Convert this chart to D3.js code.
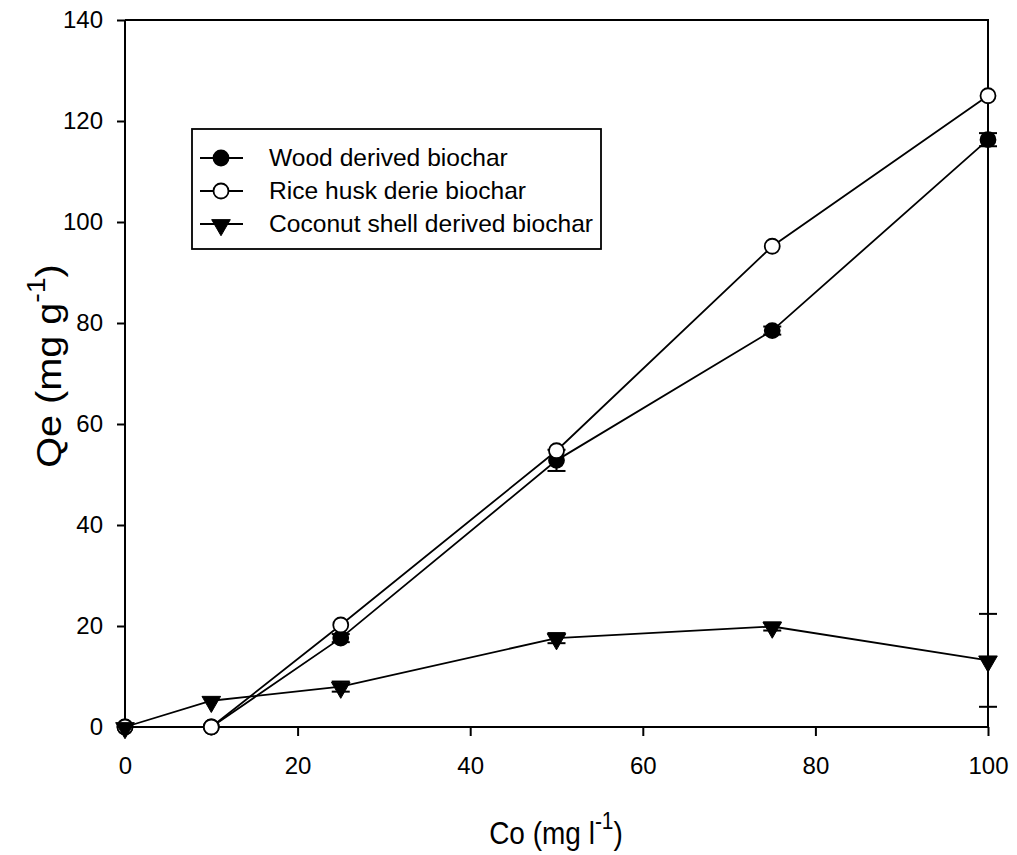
<!DOCTYPE html>
<html>
<head>
<meta charset="utf-8">
<script src="https://cdn.jsdelivr.net/npm/d3@7"></script>
<style>
  html, body { margin: 0; padding: 0; background: #fff; }
  svg { display: block; font-family: Arial, "Liberation Sans", sans-serif; }
</style>
</head>
<body>
<svg id="chart" width="1017" height="855"></svg>
<script>
// Initial concentration Co (mg/l)
const concentrations = [0, 10, 25, 50, 75, 100];

// Adsorbed amount Qe (mg/g) per biochar
const woodQe     = [0, 0, 17.6, 52.8, 78.5, 116.3];
const riceHuskQe = [0, 0, 20.2, 54.7, 95.2, 125.0];
const coconutQe  = [0, 5.2, 8.0, 17.6, 19.9, 13.2];

// Standard errors
const woodErr     = [0, 0, 0.8, 2.1, 0.8, 1.3];
const riceHuskErr = [0, 0, 0, 0, 0, 0];
const coconutErr  = [0, 0, 1.0, 1.0, 0.8, 9.2];

const seriesNames = ["Wood derived biochar", "Rice husk derie biochar", "Coconut shell derived biochar"];
const xTicks = [0, 20, 40, 60, 80, 100];
const yTicks = [0, 20, 40, 60, 80, 100, 120, 140];

const svg = d3.select("#chart");
const plotLeft = 125, plotRight = 988, plotTop = 20, plotBottom = 727;

const x = d3.scaleLinear().domain([0, 100]).range([plotLeft, plotRight]);
const y = d3.scaleLinear().domain([0, 140]).range([plotBottom, plotTop]);

const series = [
  { name: seriesNames[0], values: woodQe, err: woodErr, symbol: "filled" },
  { name: seriesNames[1], values: riceHuskQe, err: riceHuskErr, symbol: "open" },
  { name: seriesNames[2], values: coconutQe, err: coconutErr, symbol: "triangle" }
];

// Frame: top and right edges
svg.append("path")
  .attr("d", `M${plotLeft},${plotTop}H${plotRight}V${plotBottom}`)
  .attr("fill", "none").attr("stroke", "#000").attr("stroke-width", 2);

// Axes
const xAxis = svg.append("g").attr("transform", `translate(0,${plotBottom})`)
  .call(d3.axisBottom(x).tickValues(xTicks).tickSize(9).tickPadding(21).tickFormat(d3.format("d")));
const yAxis = svg.append("g").attr("transform", `translate(${plotLeft},0)`)
  .call(d3.axisLeft(y).tickValues(yTicks).tickSize(8).tickPadding(14).tickFormat(d3.format("d")));
[xAxis, yAxis].forEach(a => {
  a.attr("font-size", null).attr("font-family", null);
  a.selectAll("path.domain").attr("stroke", "#000").attr("stroke-width", 2);
  a.selectAll(".tick line").attr("stroke", "#000").attr("stroke-width", 2);
  a.selectAll(".tick text").attr("fill", "#000").style("font-size", "24px")
    .style("font-family", "Arial, 'Liberation Sans', sans-serif");
});
xAxis.select("path.domain").attr("d", `M${plotLeft},0H${plotRight}`);
yAxis.select("path.domain").attr("d", `M0,${plotTop}V${plotBottom}`);

// Marker drawing
const triangle = d3.symbol().type(d3.symbolTriangle).size(150);
function drawMarker(g, kind, cx, cy) {
  if (kind === "triangle") {
    g.append("path").attr("d", triangle())
      .attr("transform", `translate(${cx},${cy + 1}) rotate(180)`)
      .attr("fill", "#000").attr("stroke", "#000").attr("stroke-width", 1);
  } else {
    g.append("circle").attr("cx", cx).attr("cy", cy).attr("r", 7.5)
      .attr("fill", kind === "filled" ? "#000" : "#fff")
      .attr("stroke", "#000").attr("stroke-width", 1.8);
  }
}

const line = d3.line().x(d => x(d[0])).y(d => y(d[1]));

series.forEach(s => {
  const g = svg.append("g");
  const pts = concentrations.map((c, i) => [c, s.values[i], s.err[i]]);
  // error bars
  pts.filter(p => p[2] > 0).forEach(p => {
    const cx = x(p[0]);
    g.append("line").attr("x1", cx).attr("x2", cx)
      .attr("y1", y(p[1] - p[2])).attr("y2", y(p[1] + p[2]))
      .attr("stroke", "#000").attr("stroke-width", 2);
    [p[1] - p[2], p[1] + p[2]].forEach(v => {
      g.append("line").attr("x1", cx - 9).attr("x2", cx + 9)
        .attr("y1", y(v)).attr("y2", y(v))
        .attr("stroke", "#000").attr("stroke-width", 2);
    });
  });
  g.append("path").datum(pts).attr("d", line)
    .attr("fill", "none").attr("stroke", "#000").attr("stroke-width", 1.8);
  pts.forEach(p => drawMarker(g, s.symbol, x(p[0]), y(p[1])));
});

// Legend
const lg = svg.append("g");
lg.append("rect").attr("x", 192).attr("y", 129).attr("width", 409).attr("height", 120)
  .attr("fill", "#fff").attr("stroke", "#000").attr("stroke-width", 1.8);
series.forEach((s, i) => {
  const ly = 158 + i * 33;
  lg.append("line").attr("x1", 200).attr("x2", 243).attr("y1", ly).attr("y2", ly)
    .attr("stroke", "#000").attr("stroke-width", 1.8);
  drawMarker(lg, s.symbol, 221, ly);
  lg.append("text").attr("x", 269).attr("y", ly + 8).text(s.name)
    .style("font-size", "24.6px").attr("fill", "#000");
});

// Axis titles
const xt = svg.append("text").attr("transform", "translate(556,844) scale(1,1.12)")
  .attr("text-anchor", "middle").style("font-size", "28px").attr("fill", "#000");
xt.append("tspan").text("Co (mg l");
xt.append("tspan").attr("dy", -13).style("font-size", "21px").text("-1");
xt.append("tspan").attr("dy", 13).text(")");

const yt = svg.append("text").attr("transform", "translate(61,366) rotate(-90) scale(1.1,1)")
  .attr("text-anchor", "middle").style("font-size", "36px").attr("fill", "#000");
yt.append("tspan").text("Qe (mg g");
yt.append("tspan").attr("dy", -16).style("font-size", "26px").text("-1");
yt.append("tspan").attr("dy", 16).text(")");
</script>
</body>
</html>
